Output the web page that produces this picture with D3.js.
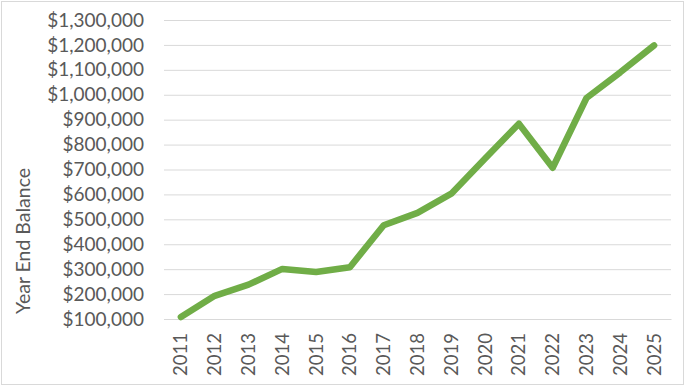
<!DOCTYPE html>
<html>
<head>
<meta charset="utf-8">
<script src="https://cdn.jsdelivr.net/npm/d3@7"></script>
<style>
  html, body { margin: 0; padding: 0; background: #fff; }
  svg { display: block; }
</style>
</head>
<body>
<div id="chart"></div>
<script>
const years = ["2011","2012","2013","2014","2015","2016","2017","2018","2019","2020","2021","2022","2023","2024","2025"];
const balances = [108000, 193000, 238000, 301000, 289000, 308000, 476000, 526000, 603000, 744000, 884000, 707000, 987000, 1090000, 1198000];
const yTicks = [100000, 200000, 300000, 400000, 500000, 600000, 700000, 800000, 900000, 1000000, 1100000, 1200000, 1300000];
const yTitle = "Year End Balance";

const W = 686, H = 386;
const plot = { left: 164, right: 671, top: 20, bottom: 319 };
const font = "Lato, 'Open Sans', sans-serif";
const textColor = "#595959";

const svg = d3.select("#chart").append("svg").attr("width", W).attr("height", H);

svg.append("rect").attr("x", 1.5).attr("y", 1.5).attr("width", W - 4).attr("height", H - 3)
  .attr("fill", "#fff").attr("stroke", "#d9d9d9").attr("stroke-width", 1);

const x = d3.scaleBand().domain(years).range([plot.left, plot.right]);
const y = d3.scaleLinear().domain([100000, 1300000]).range([plot.bottom, plot.top]);

const fmt = v => "$" + d3.format(",")(v);

// gridlines + y labels
const yAxis = d3.axisLeft(y).tickValues(yTicks).tickFormat(fmt).tickSize(-(plot.right - plot.left)).tickPadding(20);
const gy = svg.append("g").attr("transform", `translate(${plot.left},0)`).call(yAxis);
gy.select(".domain").remove();
gy.selectAll(".tick line").attr("stroke", "#d9d9d9").attr("stroke-width", 1);
gy.selectAll(".tick text").attr("fill", textColor).attr("font-family", font).attr("font-size", "19px");

// x axis
const xAxis = d3.axisBottom(x).tickSize(0).tickPadding(0);
const gx = svg.append("g").attr("transform", `translate(0,${plot.bottom})`).call(xAxis);
gx.select(".domain").attr("stroke", "#d9d9d9");
gx.selectAll(".tick text")
  .attr("fill", textColor).attr("font-family", font).attr("font-size", "18.5px")
  .attr("transform", "rotate(-90)")
  .attr("text-anchor", "end")
  .attr("dy", "0.35em")
  .attr("x", -14).attr("y", 0);

// line
const line = d3.line().x((d, i) => x(years[i]) + x.bandwidth() / 2).y(d => y(d));
svg.append("path").datum(balances).attr("d", line)
  .attr("fill", "none").attr("stroke", "#70ad47").attr("stroke-width", 6.5)
  .attr("stroke-linejoin", "round").attr("stroke-linecap", "round");

// y title
svg.append("text").attr("transform", "translate(23,241) rotate(-90)")
  .attr("text-anchor", "middle").attr("dy", "0.35em")
  .attr("fill", textColor).attr("font-family", font).attr("font-size", "19.5px")
  .text(yTitle);
</script>
</body>
</html>
